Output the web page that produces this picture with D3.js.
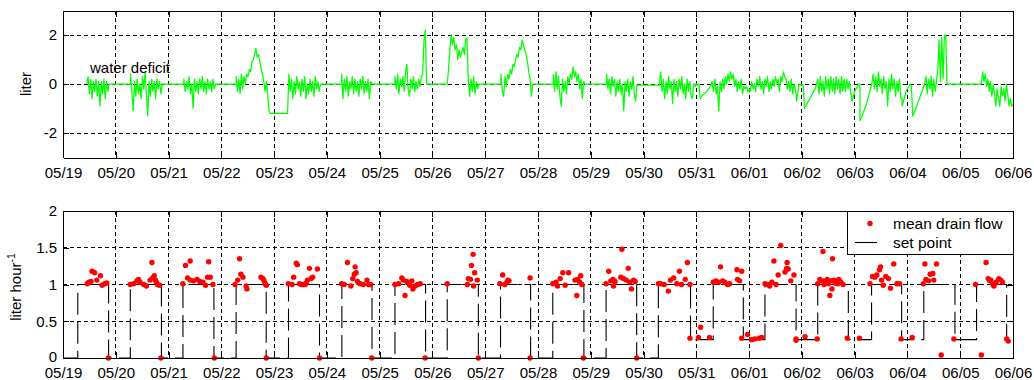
<!DOCTYPE html>
<html><head><meta charset="utf-8">
<script src="https://cdn.jsdelivr.net/npm/d3@7"></script>
<style>body{margin:0;background:#fff}svg{display:block;font-family:"Liberation Sans",Arial,sans-serif}</style>
</head><body><svg id="c" width="1034" height="380"></svg>
<script>
// ---------- data ----------
const dayLabels = ["05/19","05/20","05/21","05/22","05/23","05/24","05/25","05/26","05/27","05/28","05/29","05/30","05/31","06/01","06/02","06/03","06/04","06/05","06/06"];
const deficitTicks = [-2, 0, 2];
const flowTicks = [0, 0.5, 1, 1.5, 2];
const flowTickLabels = ["0", "0.5", "1", "1.5", "2"];

// water deficit (liter): segments sampled every 0.025 day, start in days after 05/19 00:00
const deficitStep = 0.025;
const deficitStart = [0.45, 1.28, 2.29, 3.28, 4.255, 5.28, 6.29, 7.28, 8.30, 9.29, 10.30, 11.30, 11.975, 13.0, 14.0, 15.1, 15.9, 17.40];
const deficitSeg = [
  [0,0.3,-0.4,0.2,-0.6,0.1,-0.3,0.2,-0.5,0.1,-0.9,0.1,-0.4,0.2,-0.6,0.1,-0.3,0],
  [0.4,-0.3,-1.1,0.1,-0.5,0.2,-0.4,0.0,-0.6,0.3,-0.2,0.5,-0.4,-1.3,0.1,-0.5,0.2,-0.3,0.1,-0.6,0.2,-0.2,0.1,-0.4,0],
  [0.2,-0.3,0.1,-0.2,0.3,-0.4,0.0,-1.0,0.2,-0.3,0.1,-0.4,0.2,-0.2,0.3,-0.3,0.1,-0.4,0.2,-0.2,0.1,-0.3,0.2,-0.2,0],
  [0.3,-0.3,0.2,-0.4,0.4,-0.2,0.3,0.0,0.4,0.3,0.6,0.5,0.9,1.0,1.2,1.45,1.1,1.2,0.9,0.6,0.4,0.1,-0.3,0.1,-0.5,-1.1,-1.2],
  [-1.2,0.4,-0.3,0.2,-0.6,0.1,-0.4,0.3,-0.2,0.1,-0.5,0.2,-0.3,0.3,-0.6,0.0,-0.4,0.2,-0.3,0.1,-0.5,0.3,-0.2,0.1,-0.3,0],
  [0.4,-0.6,0.2,-0.3,0.3,-0.5,0.1,-0.2,0.3,-0.4,0.2,-0.3,0.1,-0.5,0.2,-0.2,0.3,-0.4,0.1,-0.3,0.2,-0.6,0.1,0],
  [0.3,-0.2,0.4,-0.4,0.2,-0.1,0.3,-0.3,0.5,0.8,-0.2,-0.5,0.2,-0.2,0.3,-0.3,0.1,-0.2,0.2,-0.1,0.3,0.4,1.8,2.2,0],
  [0,0.6,1.4,2.0,1.6,1.9,1.4,1.6,1.0,1.4,1.1,1.3,1.5,1.2,1.8,1.9,0.1,-0.5,0.2,-0.3,0.3,-0.4,0.1,-0.2,0],
  [0.4,-0.3,-0.5,0.3,-0.1,0.4,0.2,0.6,0.4,0.8,0.7,1.0,1.2,1.1,1.5,1.4,1.8,1.6,1.4,1.2,0.9,0.5,0.2,-0.5,0],
  [0.4,-0.3,0.5,-0.2,0.3,-0.5,-0.9,0.2,-0.3,0.1,-0.4,0.3,0.0,0.4,0.2,0.7,0.3,0.5,0.1,0.4,-0.2,0.2,-0.6,0.1,0],
  [0.4,-0.2,0.2,-0.4,0.3,-0.1,0.2,-0.5,0.1,-0.3,0.2,-0.4,0.0,-1.1,0.1,-0.3,0.2,-0.5,0.1,-0.2,0.3,-0.4,-0.7,-0.05],
  [-0.05,0.5,-0.3,0.2,-0.6,0.1,-0.4,0.3,-0.2,0.1,-0.8,0.2,-0.3,0.1,-0.5,0.2,-0.2,0.3,-0.4,0.0,-0.6,0.2,-0.3,0.1,-0.5,-0.6,0.0],
  [-0.1,0.0,-0.05,0.0,-0.6,-0.5,-0.45,-0.4,-0.35,-0.3,-0.2,-0.15,-0.05,0.1,-0.3,0.2,-0.4,-0.1,-1.1,0.1,-0.3,0.2,-0.2,0.3,0.0,0.4,0.1,0.5,0.2,0.4,-0.1,0.2,-0.3,0.1,-0.2,0.2,-0.4,-0.1,-0.2,-0.1,-0.3],
  [-0.2,-0.3,0.1,-0.2,0.0,-0.3,0.2,-0.1,0.3,-0.2,0.1,-0.4,0.2,-0.1,0.3,-0.3,0.1,-0.2,0.2,-0.1,0.3,0.0,0.2,-0.3,0.3,0.1,0.5,0.3,0.2,-0.2,0.1,-0.3,0.2,-0.4,0.0,-0.2,-0.7,-0.3,0.0,-0.05],
  [0.0,-0.05,-1.0,-0.9,-0.8,-0.7,-0.6,-0.5,-0.4,-0.3,-0.2,-0.05,0.2,-0.4,0.3,-0.3,0.1,-0.5,0.3,-0.2,0.2,-0.4,0.3,-0.3,0.2,-0.4,0.3,-0.2,0.2,-0.4,0.3,-0.3,0.2,-0.3,0.2,-0.2,0.1,-0.3,-0.7,-0.5,-0.3,-0.2,-0.1,0.0],
  [-1.5,-1.4,-1.25,-1.1,-0.95,-0.8,-0.6,-0.4,-0.2,0.0,0.4,-0.2,0.3,-0.3,0.5,-0.1,0.2,-0.4,0.3,-0.2,0.1,-0.9,0.2,-0.3,0.4,-0.2,0.2,-0.5,0.1,-0.3,0.2,-0.6],
  [-0.9,-0.7,-0.5,-0.3,-0.2,-0.1,0.0,-0.1,-1.3,-1.2,-1.05,-0.9,-0.75,-0.6,-0.45,-0.3,-0.15,0.0,0.3,-0.4,0.2,-0.2,0.3,-0.5,0.2,-0.3,0.1,0.6,1.8,0.1,1.9,0.2,2.0,2.0,0],
  [0.0,0.5,0.1,0.4,-0.1,0.2,-0.3,0.1,-0.5,0.0,-0.4,-0.9,-0.2,-0.6,-0.9,-0.1,-0.5,-0.2,-0.7,0.0,-0.4,-0.9,-0.6,-0.9,-0.85]
];

// mean drain flow (liter/hour): time in days after 05/19 00:00
const flowT = [
 0.46,0.49,0.53,0.55,0.60,0.64,0.71,0.74,0.79,0.83,0.86,
 1.275,1.34,1.40,1.43,1.46,1.53,1.58,1.65,1.685,1.70,1.73,1.75,1.77,1.79,1.83,1.855,
 2.27,2.32,2.36,2.41,2.41,2.475,2.54,2.59,2.65,2.70,2.74,2.76,2.79,2.84,2.866,
 3.26,3.31,3.345,3.37,3.41,3.47,3.485,3.75,3.79,3.81,3.83,3.85,3.85,
 4.27,4.34,4.37,4.42,4.44,4.48,4.525,4.55,4.59,4.61,4.63,4.67,4.70,4.73,4.82,4.86,
 5.28,5.33,5.39,5.455,5.49,5.52,5.535,5.555,5.58,5.63,5.69,5.76,5.79,5.83,5.85,
 6.29,6.36,6.42,6.45,6.48,6.515,6.57,6.61,6.63,6.67,6.72,6.77,6.86,
 7.28,7.66,7.68,7.72,7.74,7.77,7.78,7.80,7.85,7.87,
 8.28,8.33,8.37,8.41,8.43,8.45,8.85,8.85,
 9.28,9.34,9.37,9.42,9.47,9.515,9.58,9.70,9.735,9.75,9.79,9.81,9.83,9.86,
 10.29,10.34,10.38,10.42,10.43,10.46,10.57,10.59,10.62,10.67,10.71,10.74,10.77,10.81,10.84,10.87,
 11.28,11.32,11.39,11.47,11.51,11.57,11.63,11.68,11.72,11.79,11.83,11.88,11.88,12.04,12.08,12.25,
 12.32,12.37,12.42,12.46,12.50,12.54,12.59,12.63,12.77,12.78,12.82,12.86,12.86,12.97,13.05,13.11,13.19,13.24,
 13.30,13.35,13.39,13.43,13.47,13.51,13.55,13.60,13.68,13.71,13.72,13.74,13.79,13.85,13.89,13.89,
 14.06,14.29,14.30,14.34,14.38,14.40,14.42,14.44,14.46,14.48,14.50,14.52,14.53,14.56,14.57,14.58,14.61,14.63,14.66,14.68,14.70,14.72,14.74,14.78,14.86,15.09,
 15.29,15.34,15.38,15.42,15.47,15.49,15.51,15.54,15.59,15.64,15.68,15.74,15.80,15.85,15.88,16.09,
 16.30,16.33,16.35,16.40,16.43,16.48,16.50,16.55,16.64,16.88,
 17.29,17.40,17.49,17.53,17.56,17.58,17.62,17.64,17.68,17.73,17.77,17.80,17.88,17.91
];
const flowV = [
 1.01,1.03,1.04,1.18,1.16,1.06,1.12,0.99,1.01,1.02,0,
 1.0,1.01,1.05,1.07,1.03,1.0,0.98,1.06,1.30,1.09,1.12,1.06,1.03,1.0,0.99,0,
 1.01,1.26,1.09,1.32,1.06,1.05,1.07,1.04,1.03,0.99,1.1,1.31,1.1,1.0,0,
 1.0,1.06,1.35,1.14,1.1,0.98,0.94,1.1,1.08,1.05,1.01,0.99,0,
 1.01,1.0,1.1,1.29,1.27,1.01,1.0,1.0,1.0,1.02,1.06,1.22,1.08,1.1,1.21,0,
 1.01,1.0,1.3,0.98,1.08,1.14,1.24,1.16,1.04,1.01,1.0,1.06,1.0,1.0,0,
 1.0,1.01,1.09,1.06,0.85,1.04,0.99,1.05,0.94,0.98,1.0,1.01,0,
 1.01,1.0,1.08,1.07,1.26,1.41,0.98,1.16,1.06,0,
 1.01,1.13,1.0,1.03,1.06,1.05,1.09,0,
 1.01,1.03,0.98,1.08,1.16,0.99,1.16,1.06,0.85,1.07,1.03,1.12,1.0,0,
 1.01,1.18,1.05,1.07,0.98,1.04,1.1,1.48,1.08,1.06,1.22,1.03,0.94,1.06,1.04,0,
 1.01,1.01,1.0,0.91,1.06,1.09,1.01,1.18,1.0,1.07,1.3,1.0,0.27,0.28,0.42,0.28,
 1.03,1.05,1.03,1.24,1.05,1.03,1.0,1.01,1.2,1.07,1.05,1.18,0.27,0.32,0.25,0.26,0.27,0.28,
 1.01,1.0,0.98,1.03,1.32,1.0,1.13,1.53,1.17,1.22,1.3,1.21,1.05,1.13,0.26,0.24,
 0.29,0.26,1.01,1.07,1.05,1.45,1.0,1.05,1.03,1.07,1.01,1.05,0.85,1.05,0.94,1.35,1.06,1.02,1.05,1.01,1.07,1.04,1.03,1.0,0.27,0.27,
 1.01,1.11,1.1,1.13,1.2,1.24,1.06,0.99,1.11,1.08,0.95,1.28,1.01,1.01,0.26,0.28,
 1.01,1.28,1.07,1.05,1.14,1.15,1.06,1.28,0.04,0.26,
 1.0,0.04,1.3,1.08,1.05,1.06,1.0,0.98,1.03,1.08,1.06,1.03,0.26,0.23
];

// set point (liter/hour): step changes
const setT = [0,0.28,0.864,1.275,1.865,2.273,2.86,3.28,3.85,4.273,4.86,5.284,5.855,6.29,6.87,7.28,7.87,8.29,8.86,9.28,9.87,10.29,10.87,11.28,11.89,12.32,12.89,13.30,13.89,14.30,14.88,15.32,15.89,16.31,16.90,17.31,17.88,17.93];
const setV = [0,1,0,1,0,1,0,1,0,1,0,1,0,1,0,1,0,1,0,1,0,1,0,1,0.25,1,0.25,1,0.25,1,0.25,1,0.25,1,0.25,1,0.25,0.25];

// ---------- drawing ----------
const svg = d3.select("#c");
svg.append("rect").attr("width",1034).attr("height",380).attr("fill","#fff");
const FONT = 15;
const x = d3.scaleLinear().domain([0,18]).range([63,1013]);
const yT = d3.scaleLinear().domain([-3,3]).range([157.5,10.5]);
const yB = d3.scaleLinear().domain([0,2]).range([358,211]);

function frame(y, ticks, id) {
  const [yb, yt] = y.range();
  const g = svg.append("g");
  g.append("g").selectAll("line").data(d3.range(1,18)).join("line")
    .attr("x1",d=>x(d)).attr("x2",d=>x(d)).attr("y1",yt).attr("y2",yb)
    .attr("stroke","#000").attr("stroke-width",1).attr("stroke-dasharray","4,3")
    .attr("shape-rendering","crispEdges");
  g.append("g").selectAll("line").data(ticks.filter(v=>y(v)<yb-1 && y(v)>yt+1)).join("line")
    .attr("x1",x(0)).attr("x2",x(18)).attr("y1",d=>y(d)).attr("y2",d=>y(d))
    .attr("stroke","#000").attr("stroke-width",1).attr("stroke-dasharray","4,3")
    .attr("shape-rendering","crispEdges");
  svg.append("clipPath").attr("id",id).append("rect")
    .attr("x",x(0)).attr("y",yt).attr("width",x(18)-x(0)).attr("height",yb-yt);
  return g;
}
function axes(y, ticks, labels) {
  const [yb, yt] = y.range();
  const style = sel => {
    sel.attr("font-size",FONT).attr("font-family",'"Liberation Sans",Arial,sans-serif');
    sel.selectAll("path,line").attr("stroke","#000").attr("shape-rendering","crispEdges");
    sel.selectAll("text").attr("fill","#000");
  };
  svg.append("g").attr("transform",`translate(0,${yb})`)
    .call(d3.axisBottom(x).tickValues(d3.range(19)).tickFormat(i=>dayLabels[i]).tickSizeInner(-6).tickSizeOuter(0).tickPadding(9.4)).call(style);
  svg.append("g").attr("transform",`translate(0,${yt})`)
    .call(d3.axisTop(x).tickValues(d3.range(19)).tickFormat("").tickSizeInner(-6).tickSizeOuter(0)).call(style);
  const yl = svg.append("g").attr("transform",`translate(${x(0)},0)`)
    .call(d3.axisLeft(y).tickValues(ticks).tickFormat((d,i)=>labels[i]).tickSizeInner(-6).tickSizeOuter(0).tickPadding(6)).call(style);
  svg.append("g").attr("transform",`translate(${x(18)},0)`)
    .call(d3.axisRight(y).tickValues(ticks).tickFormat("").tickSizeInner(-6).tickSizeOuter(0)).call(style);
  return yl;
}

// ----- top panel -----
frame(yT, deficitTicks, "clipT");
const defPts = [];
deficitStart.forEach((s,k) => {
  if (defPts.length) defPts.push([s, defPts[defPts.length-1][1]]);
  deficitSeg[k].forEach((v,i) => defPts.push([s + i*deficitStep, v]));
});
svg.append("path").attr("clip-path","url(#clipT)")
  .attr("d", d3.line().x(d=>x(d[0])).y(d=>yT(d[1]))(defPts))
  .attr("fill","none").attr("stroke","#00ff00").attr("stroke-width",1.25).attr("stroke-linejoin","round");
axes(yT, deficitTicks, deficitTicks.map(String));
svg.append("text").attr("x",90).attr("y",72.5).attr("font-size",FONT).text("water deficit");
svg.append("text").attr("transform",`translate(31,84) rotate(-90)`).attr("text-anchor","middle").attr("font-size",FONT).text("liter");

// ----- bottom panel -----
frame(yB, flowTicks, "clipB");
const spPts = setT.map((t,i)=>[t,setV[i]]);
svg.append("path").attr("clip-path","url(#clipB)")
  .attr("d", d3.line().curve(d3.curveStepAfter).x(d=>x(d[0])).y(d=>yB(d[1]))(spPts))
  .attr("fill","none").attr("stroke","#000").attr("stroke-width",1.1).attr("stroke-dasharray","22,7");
svg.append("g").selectAll("circle").data(flowT.map((t,i)=>[t,flowV[i]])).join("circle")
  .attr("cx",d=>x(d[0])).attr("cy",d=>yB(d[1])).attr("r",2.7).attr("fill","#ff0000");
const ylB = axes(yB, flowTicks, flowTickLabels);
// lift the "0" label slightly so it clears the first date label
ylB.selectAll(".tick text").filter(d=>d===0).attr("dy","0.2em");
const yl = svg.append("text").attr("transform",`translate(21,287) rotate(-90)`).attr("text-anchor","middle").attr("font-size",FONT);
yl.append("tspan").text("liter hour");
yl.append("tspan").attr("font-size",10.5).attr("dy",-6).text("-1");

// legend
const lg = svg.append("g");
lg.append("rect").attr("x",847).attr("y",211).attr("width",166).attr("height",43).attr("fill","#fff").attr("stroke","#000").attr("shape-rendering","crispEdges");
lg.append("circle").attr("cx",870).attr("cy",223.5).attr("r",2.7).attr("fill","#ff0000");
lg.append("text").attr("x",893).attr("y",228.5).attr("font-size",FONT+0.5).text("mean drain flow");
lg.append("line").attr("x1",855).attr("x2",877).attr("y1",242.5).attr("y2",242.5).attr("stroke","#000").attr("stroke-width",1.1);
lg.append("text").attr("x",893).attr("y",247.5).attr("font-size",FONT+0.5).text("set point");
</script></body></html>
